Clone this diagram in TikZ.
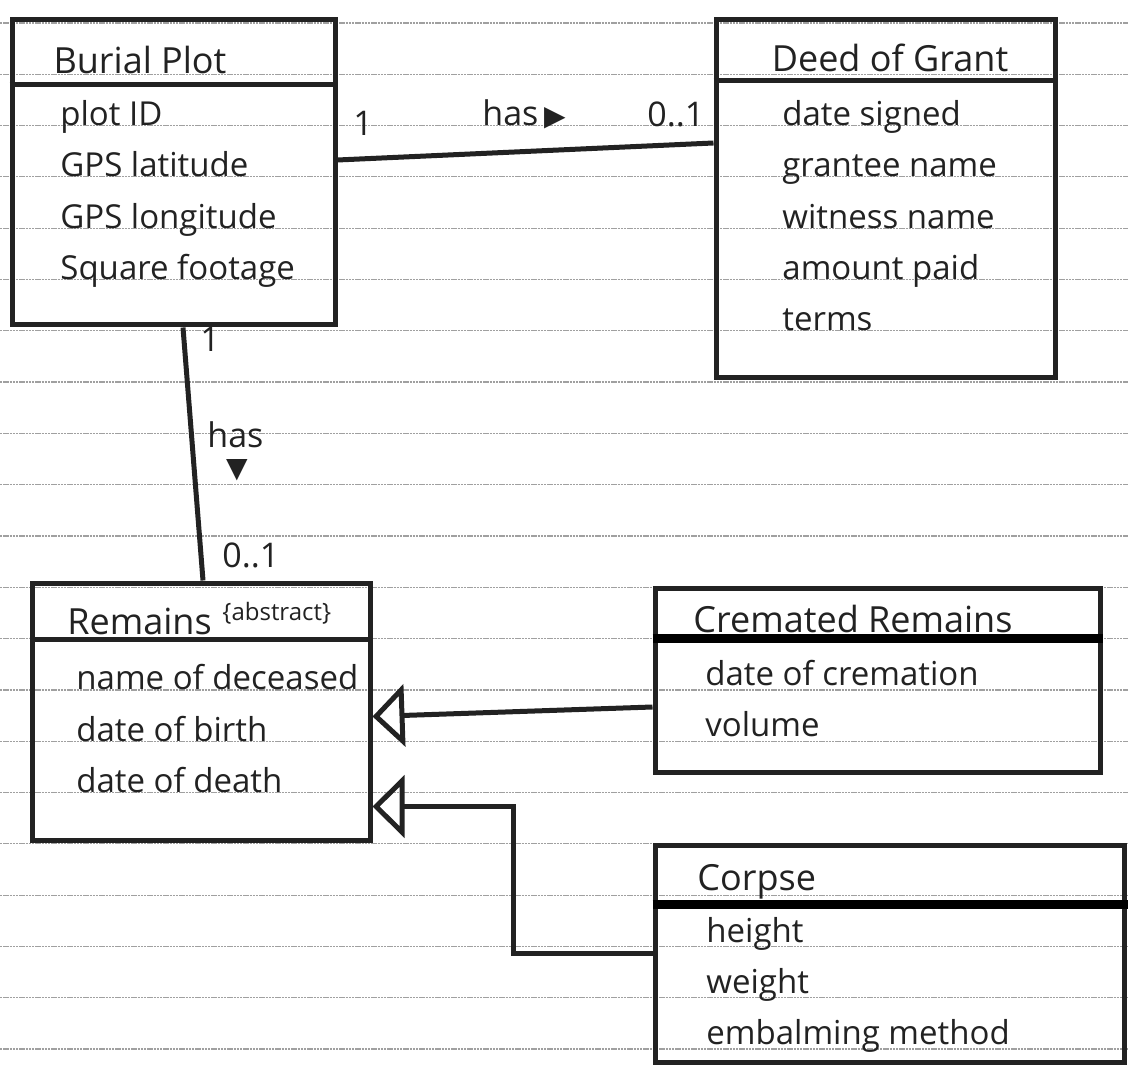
\documentclass[tikz,border=0pt]{standalone}
\usepackage{fontspec}
\setmainfont{Open Sans}
\newfontfamily\symbolfont{DejaVu Sans}
\usepackage{tikz}
\usetikzlibrary{arrows.meta, fit, calc}
\definecolor{ink}{HTML}{222222}
\definecolor{rulegray}{HTML}{A0A0A0}

\begin{document}
\begin{tikzpicture}[
    x=0.5pt, y=-0.5pt,
    cls/.style={draw=ink, line width=2.5pt, inner sep=0pt},
    title/.style={font=\fontsize{18}{20}\selectfont, text=ink, inner sep=0pt},
    attr/.style={anchor=base west, font=\fontsize{16.5}{20}\selectfont,
                 text=ink, inner sep=0pt},
    mult/.style={anchor=base west, font=\fontsize{17}{20}\selectfont,
                 text=ink, inner sep=0pt},
    divider/.style={draw=ink, line width=2.5pt},
    thickdiv/.style={draw=black, line width=4.2pt},
    assoc/.style={draw=ink, line width=2.5pt},
    gen/.style={draw=ink, line width=2.5pt,
                -{Triangle[open, length=16pt, width=31pt]}},
    ruled/.style={draw=rulegray, line width=0.6pt, dash pattern=on 1.2pt off 0.4pt}
  ]
  \useasboundingbox (0,0) rectangle (1128,1074);
  \fill[white] (0,0) rectangle (1128,1074);
  \foreach \k in {0,...,20}
    \draw[ruled] (0,{23+51.3*\k}) -- (1128,{23+51.3*\k});

  \node[cls, fit={(12,20) (335,325)}] (bp) {};
  \node[cls, fit={(716,20) (1055,378)}] (dg) {};
  \node[cls, fit={(32,583) (370,840)}] (rm) {};
  \node[cls, fit={(655,588) (1100,772)}] (cr) {};
  \node[cls, fit={(655,845) (1124,1062)}] (cp) {};

  \draw[divider] ([yshift=-33.5pt]bp.north west) -- ([yshift=-33.5pt]bp.north east);
  \draw[divider] ([yshift=-31.5pt]dg.north west) -- ([yshift=-31.5pt]dg.north east);
  \draw[divider] ([yshift=-29.5pt]rm.north west) -- ([yshift=-29.5pt]rm.north east);
  \draw[thickdiv] ([yshift=-26.5pt]cr.north west) -- ([yshift=-26.5pt]cr.north east);
  \draw[thickdiv] ([yshift=-31pt]cp.north west) -- ([xshift=4pt, yshift=-31pt]cp.north east);

  \node[title, anchor=base] (bp-title) at (140,74) {Burial Plot};
  \foreach \txt [count=\i] in {plot ID, GPS latitude, GPS longitude, Square footage}
    \node[attr] (bp-a\i) at (60,{74.3+51.3*\i}) {\txt};

  \node[title, anchor=base] (dg-title) at (890,72) {Deed of Grant};
  \foreach \txt [count=\i] in {date signed, grantee name, witness name, amount paid, terms}
    \node[attr] (dg-a\i) at (782,{74.3+51.3*\i}) {\txt};

  \node[title, anchor=base west] (rm-title) at (67,634) {Remains};
  \node[attr, font=\fontsize{12}{14}\selectfont] (rm-abs) at (222,620) {\{abstract\}};
  \foreach \txt [count=\i] in {name of deceased, date of birth, date of death}
    \node[attr] (rm-a\i) at (76,{638.6+51.3*\i}) {\txt};

  \node[title, anchor=base] (cr-title) at (853,632) {Cremated Remains};
  \foreach \txt [count=\i] in {date of cremation, volume}
    \node[attr] (cr-a\i) at (705,{634+51.3*\i}) {\txt};

  \node[title, anchor=base west] (cp-title) at (697,890) {Corpse};
  \foreach \txt [count=\i] in {height, weight, embalming method}
    \node[attr] (cp-a\i) at (706,{891+51.3*\i}) {\txt};

  \draw[assoc] ([yshift=6.25pt]bp.east) -- ([yshift=28pt]dg.west);
  \node[mult] (m1) at (353,136) {1};
  \node[mult] (has1) at (482,126) {has\,{\symbolfont\fontsize{14}{14}\selectfont ▶}};
  \node[mult] (m2) at (647,127) {0..1};

  \draw[assoc] ([xshift=4.75pt]bp.south) -- ([xshift=1pt]rm.north);
  \node[mult] (m3) at (200,352) {1};
  \node[mult] (has2) at (207,447) {has};
  \node[text=ink, inner sep=0pt, font=\symbolfont\fontsize{14}{14}\selectfont] (dir2) at (237,470) {▼};
  \node[mult] (m4) at (222,567) {0..1};

  \draw[gen] ([yshift=-13.5pt]cr.west) -- ([yshift=-2.5pt]rm.east);
  \coordinate (bend) at (513,880);
  \draw[gen] (cp.west) -| (bend) |- ([yshift=-47.5pt]rm.east);
\end{tikzpicture}
\end{document}
